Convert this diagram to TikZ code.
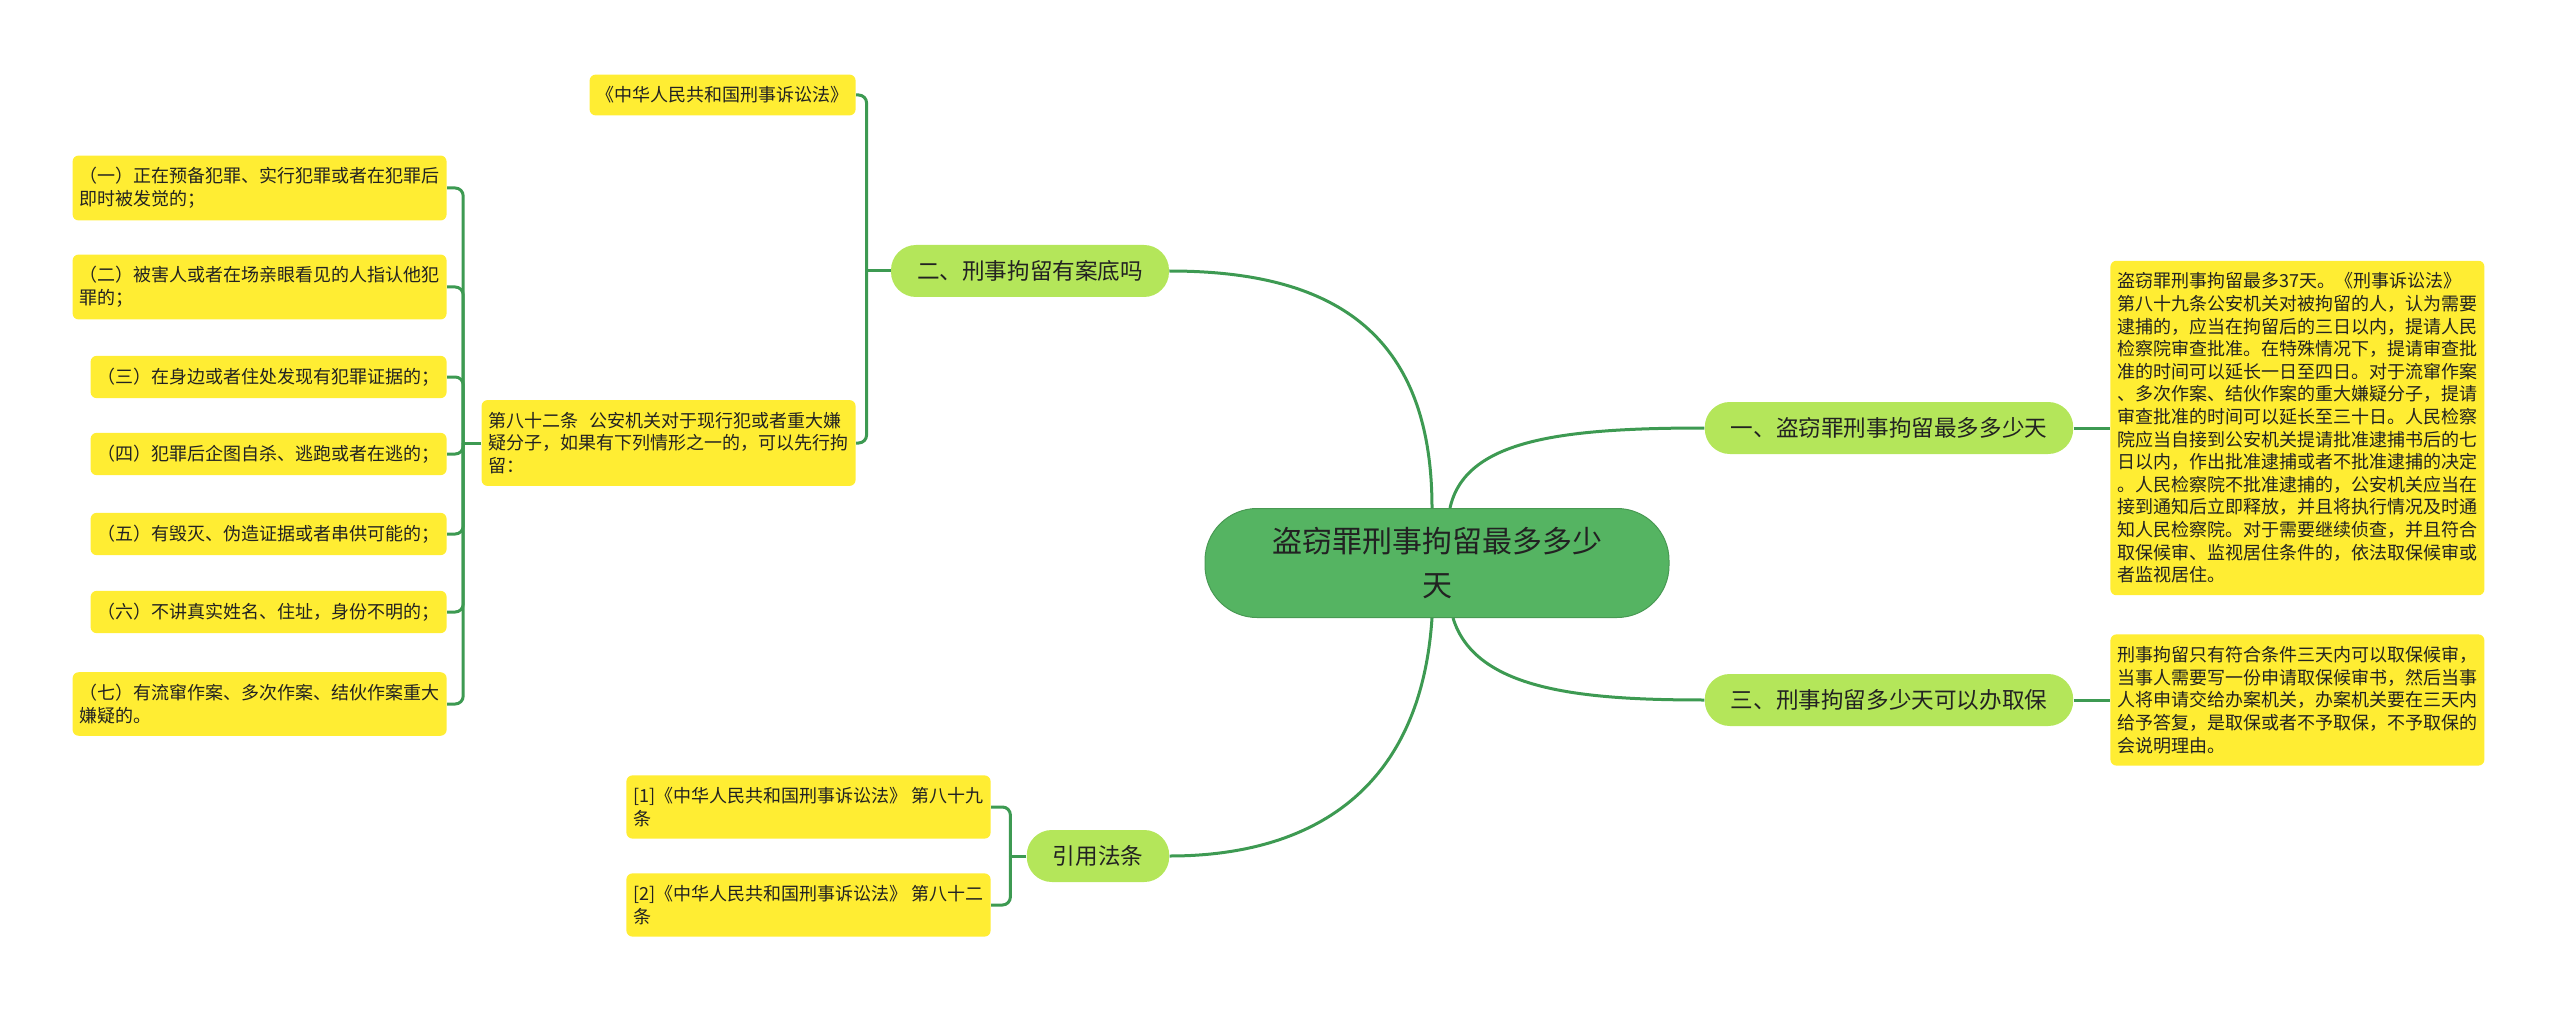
\documentclass[tikz,border=0pt]{standalone}
\usepackage{fontspec}
\setmainfont{Noto Sans CJK SC}
\usepackage{tikz}

\definecolor{rootgreen}{HTML}{55B462}
\definecolor{branchgreen}{HTML}{B4E65A}
\definecolor{leafyellow}{HTML}{FFED33}
\definecolor{linegreen}{HTML}{3D9A52}
\definecolor{textdark}{HTML}{222222}

\begin{document}
\begin{tikzpicture}[x=0.5pt,y=-0.5pt,
  rootnode/.style={fill=rootgreen,draw=rootgreen!85!black,line width=0.5pt,rounded corners=26pt,
    minimum width=232pt,minimum height=54.5pt,align=center,text=textdark,
    font=\fontsize{15}{22}\selectfont},
  branch/.style={fill=branchgreen,rounded corners=12.5pt,minimum height=26pt,inner xsep=13pt,
    text=textdark,font=\fontsize{11.3}{13}\selectfont},
  leaf/.style={fill=leafyellow,rounded corners=3pt,inner xsep=3.5pt,inner ysep=6pt,
    align=left,text=textdark,font=\fontsize{9}{11.3}\selectfont},
  link/.style={draw=linegreen,line width=1.5pt},
  bracket/.style={link,rounded corners=4pt}]
\useasboundingbox (0,0) rectangle (2560,1016);

\node[rootnode] (root) at (1437,563) {盗窃罪刑事拘留最多多少\\天};
\node[branch] (b2) at (1030,271) {二、刑事拘留有案底吗};
\node[branch] (b1) at (1889,428) {一、盗窃罪刑事拘留最多多少天};
\node[branch] (b3) at (1889,700) {三、刑事拘留多少天可以办取保};
\node[branch] (b4) at (1098,856) {引用法条};

\node[leaf,anchor=east] (law) at (856,95) {《中华人民共和国刑事诉讼法》};
\node[leaf,anchor=east] (art82) at (856,443) {第八十二条\hspace{0.6em}公安机关对于现行犯或者重大嫌\\疑分子，如果有下列情形之一的，可以先行拘\\留：};

\node[leaf,anchor=east] (c1) at (447,188) {（一）正在预备犯罪、实行犯罪或者在犯罪后\\即时被发觉的；};
\node[leaf,anchor=east] (c2) at (447,287) {（二）被害人或者在场亲眼看见的人指认他犯\\罪的；};
\node[leaf,anchor=east] (c3) at (447,377) {（三）在身边或者住处发现有犯罪证据的；};
\node[leaf,anchor=east] (c4) at (447,454) {（四）犯罪后企图自杀、逃跑或者在逃的；};
\node[leaf,anchor=east] (c5) at (447,534) {（五）有毁灭、伪造证据或者串供可能的；};
\node[leaf,anchor=east] (c6) at (447,612) {（六）不讲真实姓名、住址，身份不明的；};
\node[leaf,anchor=east] (c7) at (447,704) {（七）有流窜作案、多次作案、结伙作案重大\\嫌疑的。};

\node[leaf,anchor=east] (ref1) at (991,807) {[1]《中华人民共和国刑事诉讼法》 第八十九\\条};
\node[leaf,anchor=east] (ref2) at (991,905) {[2]《中华人民共和国刑事诉讼法》 第八十二\\条};

\node[leaf,anchor=west] (ans1) at (2110,428) {盗窃罪刑事拘留最多37天。《刑事诉讼法》\\第八十九条公安机关对被拘留的人，认为需要\\逮捕的，应当在拘留后的三日以内，提请人民\\检察院审查批准。在特殊情况下，提请审查批\\准的时间可以延长一日至四日。对于流窜作案\\、多次作案、结伙作案的重大嫌疑分子，提请\\审查批准的时间可以延长至三十日。人民检察\\院应当自接到公安机关提请批准逮捕书后的七\\日以内，作出批准逮捕或者不批准逮捕的决定\\。人民检察院不批准逮捕的，公安机关应当在\\接到通知后立即释放，并且将执行情况及时通\\知人民检察院。对于需要继续侦查，并且符合\\取保候审、监视居住条件的，依法取保候审或\\者监视居住。};
\node[leaf,anchor=west] (ans3) at (2110,700) {刑事拘留只有符合条件三天内可以取保候审，\\当事人需要写一份申请取保候审书，然后当事\\人将申请交给办案机关，办案机关要在三天内\\给予答复，是取保或者不予取保，不予取保的\\会说明理由。};

\draw[link] ([xshift=-2.5pt]root.north) .. controls (1432,330) and (1330,271) .. (b2.east);
\draw[link] ([xshift=6.5pt]root.north) .. controls (1465,440) and (1560,428) .. (b1.west);
\draw[link] ([xshift=8pt]root.south) .. controls (1475,690) and (1580,700) .. (b3.west);
\draw[link] ([xshift=-2.5pt]root.south) .. controls (1420,800) and (1300,856) .. (b4.east);

\draw[link] (b1.east) -- (ans1.west);
\draw[link] (b3.east) -- (ans3.west);

\coordinate (j2) at ([xshift=-12pt]b2.west);
\draw[link] (b2.west) -- (j2);
\draw[bracket] (j2) |- (law.east);
\draw[bracket] (j2) |- (art82.east);

\coordinate (j82) at ([xshift=-9pt]art82.west);
\draw[link] (art82.west) -- (j82);
\foreach \c in {c1,c2,c3,c4,c5,c6,c7}
  \draw[bracket] (j82) |- (\c.east);

\coordinate (j4) at ([xshift=-8pt]b4.west);
\draw[link] (b4.west) -- (j4);
\draw[bracket] (j4) |- (ref1.east);
\draw[bracket] (j4) |- (ref2.east);
\end{tikzpicture}
\end{document}
